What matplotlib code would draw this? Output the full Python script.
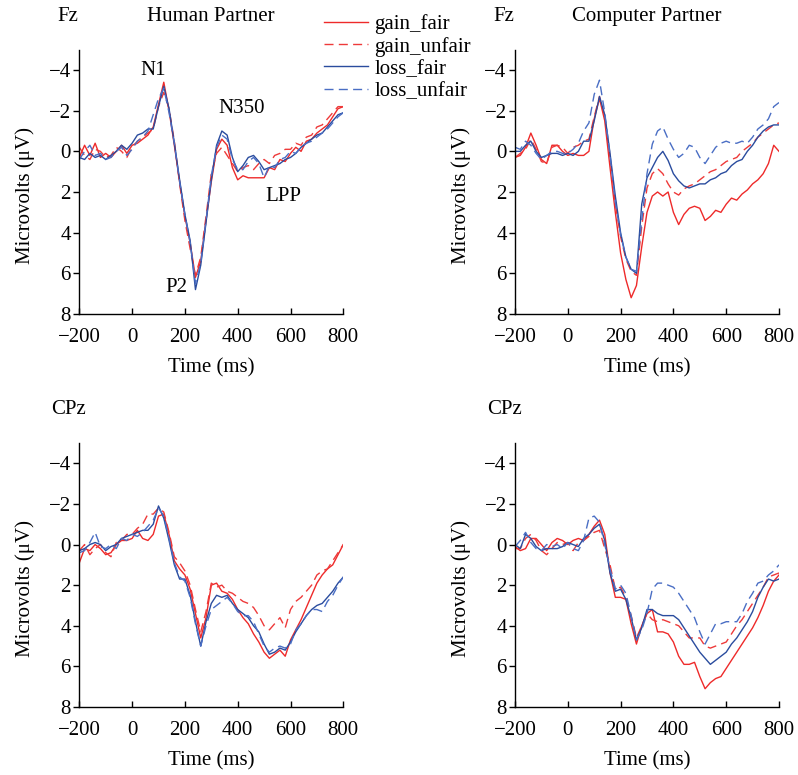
import numpy as np
import matplotlib
matplotlib.use("Agg")
import matplotlib.pyplot as plt

plt.rcParams['font.family'] = ['Liberation Serif', 'DejaVu Serif']
plt.rcParams['font.size'] = 15

# time axis, 20 ms steps
times = np.arange(-200, 801, 20)

conditions = ['gain_fair', 'gain_unfair', 'loss_fair', 'loss_unfair']
colors = {'gain_fair': '#ee2a2a', 'gain_unfair': '#ee3a3a',
          'loss_fair': '#2a4c9e', 'loss_unfair': '#4a6ec4'}
styles = {'gain_fair': '-', 'gain_unfair': (0, (6.5, 3.8)),
          'loss_fair': '-', 'loss_unfair': (0, (6.5, 3.8))}

# Fz, human partner
fz_human_gain_fair = [0.3, -0.3, 0.2, -0.4, 0.3, 0.1, 0.3, 0.0, -0.3, 0.1,
                      -0.3, -0.4, -0.6, -0.8, -1.2, -2.3, -3.4, -2.0, -0.3, 1.5,
                      3.2, 4.5, 6.2, 5.4, 3.4, 1.5, -0.1, -0.6, -0.3, 0.8,
                      1.4, 1.2, 1.3, 1.3, 1.3, 1.3, 0.8, 0.9, 0.4, 0.5,
                      0.1, -0.2, 0.0, -0.5, -0.6, -0.9, -1.1, -1.3, -1.7, -2.1, -2.2]
fz_human_gain_unfair = [-0.2, 0.2, 0.4, -0.1, 0.0, 0.3, 0.2, -0.2, 0.0, 0.3,
                        -0.2, -0.5, -0.7, -0.9, -1.1, -2.2, -2.9, -2.1, -0.5, 1.6,
                        3.4, 4.8, 6.1, 5.2, 3.2, 1.1, 0.1, -0.2, 0.2, 0.6,
                        1.0, 0.8, 0.7, 0.9, 0.6, 0.4, 0.6, 0.2, 0.1, -0.1,
                        -0.1, -0.4, -0.3, -0.7, -0.8, -1.2, -1.3, -1.6, -1.9, -2.2, -2.2]
fz_human_loss_fair = [0.3, 0.4, 0.1, 0.3, 0.2, 0.4, 0.2, 0.0, -0.3, -0.1,
                      -0.4, -0.8, -0.9, -1.1, -1.1, -2.2, -3.2, -2.1, -0.4, 1.4,
                      3.1, 4.4, 6.8, 5.6, 3.5, 1.4, -0.3, -1.0, -0.8, 0.3,
                      1.0, 0.7, 0.3, 0.2, 0.5, 0.9, 0.8, 0.7, 0.6, 0.4,
                      0.3, 0.1, -0.2, -0.4, -0.6, -0.8, -0.9, -1.2, -1.5, -1.8, -1.9]
fz_human_loss_unfair = [0.4, 0.0, -0.3, 0.2, 0.1, 0.4, 0.3, 0.0, -0.2, 0.2,
                        -0.1, -0.5, -0.7, -1.0, -1.8, -2.6, -3.1, -1.9, -0.4, 1.5,
                        3.1, 4.5, 6.5, 5.5, 3.4, 1.2, -0.2, -0.8, -0.6, 0.4,
                        0.9, 0.9, 0.5, 0.3, 0.6, 1.3, 0.7, 0.8, 0.4, 0.3,
                        0.0, 0.1, -0.2, -0.4, -0.5, -0.7, -0.9, -1.1, -1.4, -1.7, -1.9]

# Fz, computer partner
fz_comp_gain_fair = [0.3, 0.2, -0.2, -0.9, -0.3, 0.4, 0.6, -0.3, -0.3, 0.0,
                     0.2, 0.1, 0.2, 0.2, 0.0, -1.6, -2.6, -1.5, 0.8, 3.0,
                     5.0, 6.3, 7.2, 6.6, 4.7, 3.0, 2.2, 2.0, 2.2, 2.0,
                     3.0, 3.6, 3.1, 2.8, 2.7, 2.8, 3.4, 3.2, 2.9, 3.0,
                     2.6, 2.3, 2.4, 2.1, 1.9, 1.6, 1.4, 1.1, 0.6, -0.3, 0.0]
fz_comp_gain_unfair = [0.3, 0.1, -0.1, -0.6, -0.1, 0.5, 0.6, -0.2, -0.3, -0.2,
                       0.1, -0.2, -0.3, -0.5, -0.6, -1.7, -2.7, -1.7, 0.3, 2.6,
                       4.2, 5.3, 5.9, 6.1, 3.7, 1.8, 1.1, 0.85, 1.1, 1.6,
                       2.0, 2.15, 1.85, 1.7, 1.6, 1.4, 1.2, 1.0, 0.9, 0.7,
                       0.5, 0.4, 0.3, 0.0, -0.2, -0.4, -0.7, -0.9, -1.1, -1.3, -1.4]
fz_comp_loss_fair = [0.0, 0.0, -0.3, -0.5, 0.0, 0.3, 0.2, 0.1, 0.1, 0.2,
                     0.1, 0.2, 0.0, -0.5, -0.5, -1.5, -2.7, -1.8, 0.1, 2.2,
                     4.0, 5.2, 5.8, 6.0, 2.6, 1.3, 0.8, 0.3, 0.0, 0.45,
                     1.1, 1.45, 1.7, 1.8, 1.7, 1.6, 1.6, 1.4, 1.3, 1.1,
                     1.0, 0.7, 0.5, 0.4, 0.0, -0.3, -0.7, -1.0, -1.2, -1.3, -1.3]
fz_comp_loss_unfair = [-0.2, -0.1, -0.5, -0.3, 0.1, 0.4, 0.2, 0.0, 0.0, 0.1,
                       0.1, -0.1, -0.4, -1.0, -1.4, -2.8, -3.5, -1.9, 0.2, 2.5,
                       4.1, 5.2, 5.8, 5.9, 3.4, 1.1, -0.35, -1.0, -1.2, -0.6,
                       -0.1, 0.3, 0.1, -0.3, -0.2, 0.3, 0.6, 0.2, -0.2, -0.4,
                       -0.5, -0.4, -0.4, -0.5, -0.4, -0.7, -1.1, -1.3, -1.6, -2.2, -2.4]

# CPz, human partner
cpz_human_gain_fair = [0.9, 0.2, 0.3, 0.0, 0.2, 0.5, 0.4, 0.0, -0.2, -0.2,
                       -0.3, -0.7, -0.3, -0.2, -0.5, -1.4, -1.5, -0.5, 0.8, 1.2,
                       1.5, 2.2, 3.4, 4.6, 3.6, 2.0, 1.9, 2.3, 2.4, 2.7,
                       3.2, 3.6, 3.9, 4.4, 4.8, 5.3, 5.6, 5.4, 5.2, 5.5,
                       4.7, 4.2, 3.7, 3.1, 2.5, 1.9, 1.5, 1.2, 1.0, 0.5, 0.0]
cpz_human_gain_unfair = [0.3, 0.0, 0.5, 0.2, 0.0, 0.4, 0.6, -0.1, -0.2, -0.5,
                         -0.5, -0.8, -1.0, -1.5, -1.5, -1.8, -1.6, -0.6, 0.6, 0.9,
                         1.3, 2.0, 3.2, 4.3, 3.3, 1.9, 2.1, 2.0, 2.3, 2.4,
                         2.6, 2.8, 2.9, 3.1, 3.5, 4.0, 4.2, 3.9, 3.6, 4.1,
                         3.2, 2.8, 2.6, 2.3, 2.0, 1.5, 1.3, 1.2, 0.8, 0.4, 0.0]
cpz_human_loss_fair = [0.3, 0.2, 0.0, -0.1, 0.0, 0.3, 0.1, 0.0, -0.3, -0.4,
                       -0.5, -0.6, -0.7, -0.7, -1.0, -1.9, -1.3, -0.2, 1.0, 1.7,
                       1.7, 2.5, 3.8, 5.0, 3.8, 2.9, 2.5, 2.6, 2.5, 2.9,
                       3.2, 3.4, 3.6, 4.0, 4.3, 4.9, 5.4, 5.3, 5.1, 5.2,
                       4.8, 4.3, 3.9, 3.5, 3.2, 3.0, 2.9, 2.6, 2.3, 1.9, 1.6]
cpz_human_loss_unfair = [0.4, 0.3, -0.1, -0.6, 0.1, 0.2, 0.0, 0.2, -0.3, -0.2,
                         -0.5, -0.4, -0.6, -0.9, -1.2, -1.8, -1.4, -0.3, 0.9, 1.6,
                         1.8, 2.6, 3.9, 5.0, 4.0, 3.2, 3.0, 2.8, 2.6, 2.9,
                         3.3, 3.5, 3.5, 3.8, 4.4, 5.0, 5.3, 5.1, 5.0, 5.1,
                         4.9, 4.2, 3.9, 3.5, 3.2, 3.2, 3.3, 2.8, 2.5, 2.0, 1.6]

# CPz, computer partner
cpz_comp_gain_fair = [0.1, 0.3, 0.2, -0.3, -0.3, 0.0, 0.3, -0.1, -0.3, -0.2,
                      0.0, -0.2, -0.3, -0.2, -0.5, -0.9, -1.2, -0.5, 1.4, 2.6,
                      2.6, 2.7, 3.9, 4.9, 4.0, 3.4, 3.2, 4.3, 4.3, 4.4,
                      4.8, 5.5, 5.9, 5.9, 5.8, 6.5, 7.1, 6.8, 6.6, 6.5,
                      6.1, 5.7, 5.3, 4.9, 4.5, 4.1, 3.6, 3.0, 2.3, 1.8, 1.5]
cpz_comp_gain_unfair = [0.2, 0.2, -0.3, -0.5, -0.2, 0.3, 0.5, 0.2, -0.1, 0.0,
                        -0.1, 0.3, -0.1, -0.2, -0.4, -0.6, -0.7, 0.2, 1.0, 2.2,
                        2.1, 2.6, 3.5, 4.6, 4.0, 3.4, 3.7, 3.8, 3.7, 3.8,
                        3.9, 4.0, 4.3, 4.6, 4.6, 4.6, 5.0, 5.1, 5.0, 4.9,
                        4.8, 4.4, 4.0, 3.7, 3.3, 2.9, 2.5, 2.1, 1.6, 1.5, 1.4]
cpz_comp_loss_fair = [0.0, 0.2, -0.5, -0.3, 0.1, 0.3, 0.2, 0.2, 0.2, 0.1,
                      -0.1, 0.0, 0.1, -0.3, -0.5, -0.8, -1.0, -0.2, 1.4, 2.3,
                      2.2, 2.7, 3.6, 4.7, 4.1, 3.2, 3.2, 3.4, 3.5, 3.5,
                      3.5, 3.7, 4.1, 4.5, 4.9, 5.3, 5.6, 5.9, 5.7, 5.5,
                      5.3, 4.9, 4.6, 4.2, 3.8, 3.3, 2.6, 2.1, 1.7, 1.8, 1.7]
cpz_comp_loss_unfair = [0.1, -0.2, -0.6, -0.1, 0.2, 0.3, 0.0, 0.1, 0.0, 0.2,
                        -0.1, 0.2, 0.3, -0.2, -1.3, -1.4, -1.1, 0.0, 1.2, 2.2,
                        2.0, 2.4, 3.5, 4.7, 4.2, 3.4, 2.2, 1.9, 1.9, 2.0,
                        2.1, 2.4, 2.8, 3.2, 3.6, 4.3, 4.9, 4.4, 3.9, 3.9,
                        3.8, 3.8, 3.8, 3.4, 2.8, 2.4, 1.9, 1.8, 1.5, 1.3, 1.0]

panels = [
    ('Fz', 'Human Partner', [fz_human_gain_fair, fz_human_gain_unfair, fz_human_loss_fair, fz_human_loss_unfair]),
    ('Fz', 'Computer Partner', [fz_comp_gain_fair, fz_comp_gain_unfair, fz_comp_loss_fair, fz_comp_loss_unfair]),
    ('CPz', '', [cpz_human_gain_fair, cpz_human_gain_unfair, cpz_human_loss_fair, cpz_human_loss_unfair]),
    ('CPz', '', [cpz_comp_gain_fair, cpz_comp_gain_unfair, cpz_comp_loss_fair, cpz_comp_loss_unfair]),
]

W, H = 798, 775
fig = plt.figure(figsize=(W / 100, H / 100), dpi=100)

# axes boxes in pixels: left, top of axis, right, bottom
boxes = [(79.3, 49.7, 343.3, 314), (515, 49.7, 779, 314),
         (79.3, 443, 343.3, 707), (515, 443, 779, 707)]

axes = []
for (elec, partner, series), (x0, y0, x1, y1) in zip(panels, boxes):
    ax = fig.add_axes([x0 / W, 1 - y1 / H, (x1 - x0) / W, (y1 - y0) / H])
    for name, vals in zip(conditions, series):
        ax.plot(times, vals, color=colors[name], linestyle=styles[name], lw=1.0, label=name)
    ax.set_xlim(-200, 800)
    ax.set_ylim(8, -5)
    ax.set_xticks([-200, 0, 200, 400, 600, 800])
    ax.set_yticks([-4, -2, 0, 2, 4, 6, 8])
    for s in ['top', 'right']:
        ax.spines[s].set_visible(False)
    for s in ['left', 'bottom']:
        ax.spines[s].set_linewidth(1.0)
    ax.tick_params(axis='y', direction='out', length=4, width=1.0, pad=2, labelsize=15)
    ax.tick_params(axis='x', direction='in', length=4, width=1.0, pad=10, labelsize=15)
    ax.set_xlabel('Time (ms)', fontsize=15, va='center')
    ax.set_ylabel('Microvolts (μV)', fontsize=15, va='center', ha='center')
    ax.yaxis.set_label_coords(-54 / (x1 - x0), 0.45)
    ax.xaxis.set_label_coords(0.5, -54 / (y1 - y0))
    fig.text((x0 - 11) / W, 1 - (y0 - 33) / H, elec, ha='center', va='center', fontsize=15)
    if partner:
        fig.text((x0 + 132) / W, 1 - (y0 - 33) / H, partner, ha='center', va='center', fontsize=15)
    axes.append(ax)

# component labels on the first panel
ax0 = axes[0]
for txt, t, v in [('N1', 80, -4.0), ('N350', 415, -2.1), ('LPP', 572, 2.2), ('P2', 167, 6.7)]:
    ax0.text(t, v, txt, ha='center', va='center', fontsize=15)

handles, labels = ax0.get_legend_handles_labels()
fig.legend(handles, labels, loc='upper left', bbox_to_anchor=(316 / W, 1 - 6 / H),
           frameon=False, fontsize=15, handlelength=2.1, handletextpad=0.3,
           labelspacing=0.12, borderaxespad=0)

fig.savefig('out.png', dpi=100)
